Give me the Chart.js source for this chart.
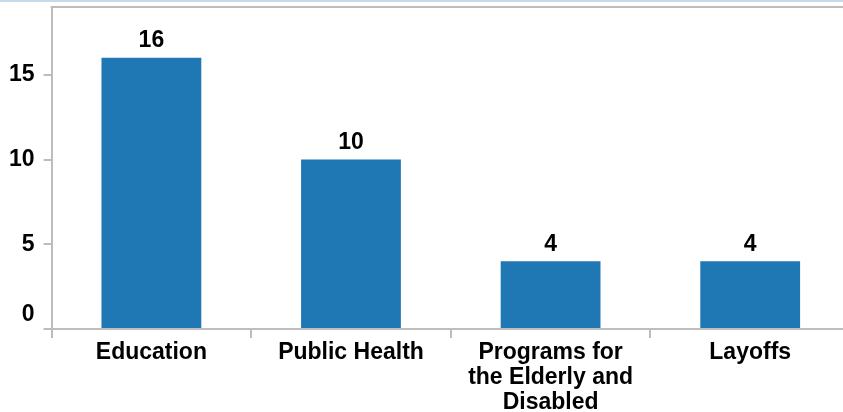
<!DOCTYPE html>
<html lang="en">

<head>
    <meta charset="UTF-8">
    <title>Bar chart</title>
    <script src="https://cdn.jsdelivr.net/npm/chart.js"></script>
    <style>
        html, body {
            margin: 0;
            padding: 0;
            background: #fff;
            overflow: hidden;
        }

        .top-line {
            position: absolute;
            left: 0;
            top: 0;
            width: 843px;
            height: 2px;
            background: #c6daea;
            z-index: 2;
        }

        .chart-box {
            position: absolute;
            left: 0;
            top: 0;
            width: 852px;
            height: 417px;
        }
    </style>
</head>

<body>
    <div class="top-line"></div>
    <div class="chart-box">
        <canvas id="chart-bar"></canvas>
    </div>

    <script>
        const categorias = [
            'Education',
            'Public Health',
            ['Programs for', 'the Elderly and', 'Disabled'],
            'Layoffs'
        ];
        const valores = [16, 10, 4, 4];
        const ticksY = [0, 5, 10, 15];

        const corBarra = '#1f77b4';
        const corEixo = '#bdbdbd';
        const fonte = { family: 'Liberation Sans, Arial, sans-serif', size: 23, weight: 'bold' };

        // rótulos acima das barras, o "0" do eixo y e a linha de cima
        const rotulos = {
            id: 'rotulos',
            afterDatasetsDraw(chart) {
                const ctx = chart.ctx;
                const meta = chart.getDatasetMeta(0);
                const area = chart.chartArea;
                ctx.save();
                ctx.strokeStyle = corEixo;
                ctx.lineWidth = 2;
                ctx.beginPath();
                ctx.moveTo(area.left - 1, area.top);
                ctx.lineTo(area.right, area.top);
                ctx.stroke();

                ctx.font = 'bold 23px "Liberation Sans", Arial, sans-serif';
                ctx.fillStyle = '#000';
                ctx.textAlign = 'center';
                ctx.textBaseline = 'middle';
                meta.data.forEach((bar, i) => {
                    ctx.fillText(valores[i], bar.x, bar.y - 17);
                });
                const y = chart.scales.y;
                ctx.textAlign = 'right';
                ctx.fillText('0', y.right - 17, y.getPixelForValue(0) - 14);
                ctx.restore();
            }
        };

        new Chart(document.getElementById('chart-bar'), {
            type: 'bar',
            data: {
                labels: categorias,
                datasets: [{
                    data: valores,
                    backgroundColor: corBarra,
                    borderWidth: 0,
                    barPercentage: 0.5,
                    categoryPercentage: 1.0
                }]
            },
            options: {
                responsive: true,
                maintainAspectRatio: false,
                animation: false,
                layout: {
                    padding: { left: 0, right: 2, top: 7, bottom: 0 }
                },
                plugins: {
                    legend: { display: false },
                    tooltip: { enabled: false }
                },
                scales: {
                    x: {
                        offset: true,
                        grid: {
                            display: true,
                            offset: true,
                            drawOnChartArea: false,
                            drawTicks: true,
                            tickLength: 9,
                            color: corEixo,
                            lineWidth: 2
                        },
                        border: { color: corEixo, width: 2 },
                        ticks: {
                            color: '#000',
                            font: { ...fonte, lineHeight: 1.087 },
                            padding: 2,
                            maxRotation: 0,
                            autoSkip: false
                        }
                    },
                    y: {
                        min: 0,
                        max: 19,
                        afterBuildTicks(axis) {
                            axis.ticks = ticksY.map(v => ({ value: v }));
                        },
                        afterFit(axis) {
                            axis.paddingTop = 0;
                            axis.paddingBottom = 0;
                        },
                        grid: {
                            drawOnChartArea: false,
                            drawTicks: true,
                            tickLength: 8,
                            color: corEixo,
                            lineWidth: 2
                        },
                        border: { color: corEixo, width: 2 },
                        ticks: {
                            color: '#000',
                            font: fonte,
                            padding: 9,
                            callback: v => v === 0 ? '' : v
                        }
                    }
                }
            },
            plugins: [rotulos]
        });
    </script>
</body>

</html>
